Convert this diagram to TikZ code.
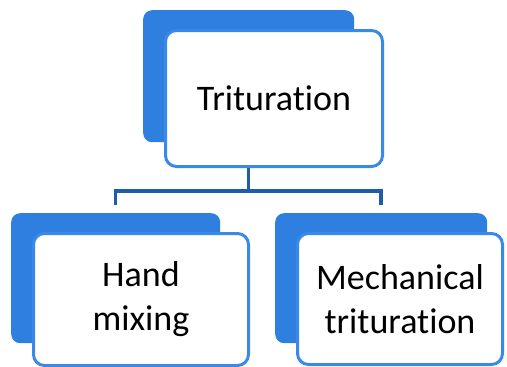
\documentclass[tikz,border=0pt]{standalone}
\usepackage{fontspec}
\setmainfont{Carlito}[Ligatures=NoCommon]
\definecolor{backblue}{HTML}{2E7FE0}
\definecolor{edgeblue}{HTML}{3A89E8}
\definecolor{linkblue}{HTML}{1F5DA8}
\begin{document}
\begin{tikzpicture}[x=1pt, y=-1pt, line join=round, font=\fontsize{36}{44}\selectfont]
	\tikzset{back/.style={fill=backblue, rounded corners=9pt, inner sep=0pt, anchor=north west},
		front/.style={draw=edgeblue, line width=3pt, fill=white, rounded corners=11pt, align=center, inner sep=0pt, anchor=north west, xshift=21pt, yshift=-19pt},
		link/.style={draw=linkblue, line width=3.5pt, line join=miter}}
	\useasboundingbox (0,0) rectangle (507,367);
	% back cards
	\node[back, minimum width=211pt, minimum height=132pt] (trit-b) at (143,10) {};
	\node[back, minimum width=209pt, minimum height=130pt] (hand-b) at (11,213) {};
	\node[back, minimum width=212pt, minimum height=130pt] (mech-b) at (275,213) {};
	% front cards
	\node[front, minimum width=217pt, minimum height=136pt] (trit) at (trit-b.north west) {Trituration};
	\node[front, minimum width=215pt, minimum height=132pt] (hand) at (hand-b.north west) {Hand\\mixing};
	\node[front, minimum width=205pt, minimum height=131pt] (mech) at (mech-b.north west) {Mechanical\\trituration};
	% connectors
	\draw[link] (trit-b.south |- trit.south) -- ++(0,23) coordinate (split);
	\draw[link] ([yshift=8pt]hand-b.north) |- (split) -| ([yshift=8pt]mech-b.north);
\end{tikzpicture}
\end{document}
